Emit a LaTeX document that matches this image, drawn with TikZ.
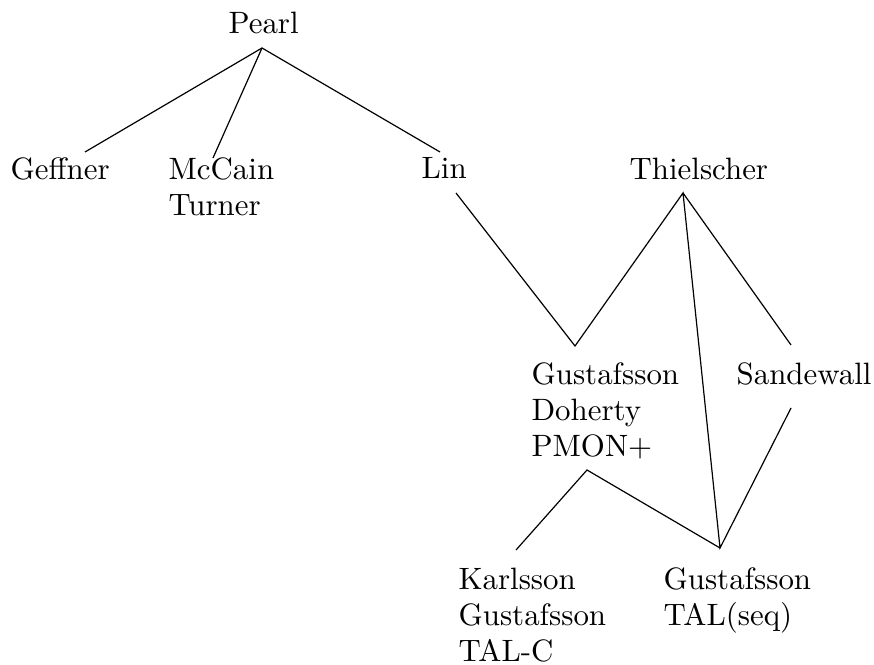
\documentclass[tikz,border=0pt]{standalone}
\begin{document}
\begin{tikzpicture}[x=0.3333pt,y=-0.3333pt,
  lbl/.style={anchor=north west,inner sep=0pt,align=left,font=\fontsize{10.3}{12}\selectfont},
  edge/.style={draw=black,line width=0.4pt}]
\useasboundingbox (0,0) rectangle (874,665);
\node[lbl] (pearl) at (228,11) {Pearl};
\node[lbl] (geffner) at (10,157) {Geffner};
\node[lbl] (mccain) at (168,157) {McCain\\Turner};
\node[lbl] (lin) at (421,157) {Lin};
\node[lbl] (thiel) at (629,157) {Thielscher};
\node[lbl] (gd) at (531,362) {Gustafsson\\Doherty\\PMON+};
\node[lbl] (sande) at (736,362) {Sandewall};
\node[lbl] (karl) at (458,567) {Karlsson\\Gustafsson\\TAL-C};
\node[lbl] (gtal) at (663,567) {Gustafsson\\TAL(seq)};
\coordinate (pearlB) at (262,48);
\coordinate (geffnerT) at (85,152);
\coordinate (mccainT) at (213,158);
\coordinate (linT) at (440,152);
\coordinate (linB) at (456,193);
\coordinate (thielB) at (683,193);
\coordinate (gdT) at (575,346);
\coordinate (gdB) at (587,470);
\coordinate (sandeT) at (791,345);
\coordinate (sandeB) at (791,408);
\coordinate (karlT) at (516,550);
\coordinate (gtalT) at (720,548);
\draw[edge] (geffnerT) -- (pearlB) -- (linT);
\draw[edge] (mccainT) -- (pearlB);
\draw[edge] (linB) -- (gdT) -- (thielB) -- (gtalT) -- (sandeB);
\draw[edge] (thielB) -- (sandeT);
\draw[edge] (karlT) -- (gdB) -- (gtalT);
\end{tikzpicture}
\end{document}
